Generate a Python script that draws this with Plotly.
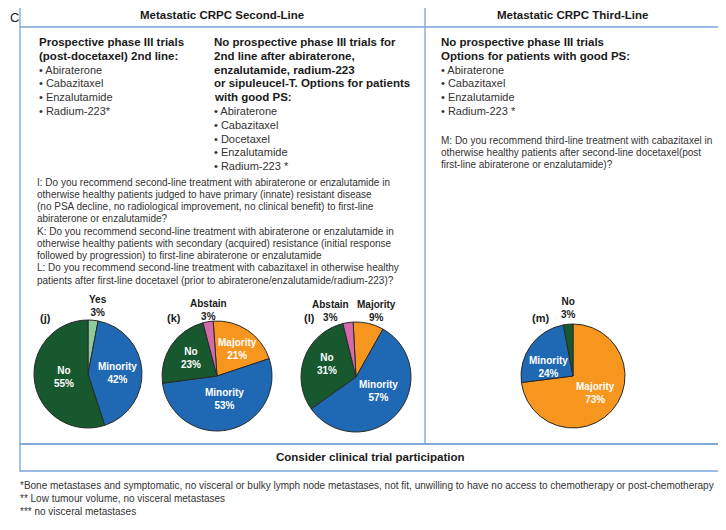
import plotly.graph_objects as go

# page body has an 8px margin, so the figure is sized to fit the 726x530 window
OFF = 8
W, H = 718, 512
FONT = "Liberation Sans, Arial, sans-serif"

# ---- data ----
header_titles = ["Metastatic CRPC Second-Line", "Metastatic CRPC Third-Line"]

col_left_heading = ["Prospective phase III trials", "(post-docetaxel) 2nd line:"]
col_left_drugs = ["Abiraterone", "Cabazitaxel", "Enzalutamide", "Radium-223*"]

col_mid_heading = [
    "No prospective phase III trials for",
    "2nd line after abiraterone,",
    "enzalutamide, radium-223",
    "or sipuleucel-T. Options for patients",
    "with good PS:",
]
col_mid_drugs = ["Abiraterone", "Cabazitaxel", "Docetaxel", "Enzalutamide", "Radium-223 *"]

col_right_heading = ["No prospective phase III trials", "Options for patients with good PS:"]
col_right_drugs = ["Abiraterone", "Cabazitaxel", "Enzalutamide", "Radium-223 *"]

questions_second = [
    "I: Do you recommend second-line treatment with abiraterone or enzalutamide in",
    "otherwise healthy patients judged to have primary (innate) resistant disease",
    "(no PSA decline, no radiological improvement, no clinical benefit) to first-line",
    "abiraterone or enzalutamide?",
    "K: Do you recommend second-line treatment with abiraterone or enzalutamide in",
    "otherwise healthy patients with secondary (acquired) resistance (initial response",
    "followed by progression) to first-line abiraterone or enzalutamide",
    "L: Do you recommend second-line treatment with cabazitaxel in otherwise healthy",
    "patients after first-line docetaxel (prior to abiraterone/enzalutamide/radium-223)?",
]
questions_third = [
    "M: Do you recommend third-line treatment with cabazitaxel in",
    "otherwise healthy patients after second-line docetaxel(post",
    "first-line abiraterone or enzalutamide)?",
]

pie_names = ["(j)", "(k)", "(l)", "(m)"]
pie_labels = [
    ["Yes", "Minority", "No"],
    ["Majority", "Minority", "No", "Abstain"],
    ["Majority", "Minority", "No", "Abstain"],
    ["Majority", "Minority", "No"],
]
pie_values = [
    [3, 42, 55],
    [21, 53, 23, 3],
    [9, 57, 31, 3],
    [73, 24, 3],
]

bottom_text = "Consider clinical trial participation"
footnotes = [
    "*Bone metastases and symptomatic, no visceral or bulky lymph node metastases, not fit, "
    "unwilling to have no access to chemotherapy or post-chemotherapy",
    "** Low tumour volume, no visceral metastases",
    "*** no visceral metastases",
]

# ---- styles / layout (screen pixels) ----
colors = {
    "Yes": "#8fcc9c",
    "Minority": "#1f69b4",
    "No": "#17582f",
    "Majority": "#f7961f",
    "Abstain": "#d46aa9",
}
box_color = "#78a4d8"
text_dark = "#1a1a1a"
text_gray = "#333333"

# pie centre (px), radius (px), rotation
pie_geom = [(88, 374, 54, 0), (217, 376, 55, -4), (356, 377, 55, -3), (573, 376, 52, 0)]
pie_name_pos = [(38, 318), (165, 318), (302, 318), (530, 318)]
# label positions (px) per slice, and whether label sits inside the slice
pie_label_pos = [
    [(98, 306, False), (117, 373, True), (64, 377, True)],
    [(237, 349, True), (224, 399, True), (191, 358, True), (208, 310, False)],
    [(376, 311, False), (378, 391, True), (327, 364, True), (330, 311, False)],
    [(595, 393, True), (548, 367, True), (568, 308, False)],
]


def fx(x):
    return (x - OFF) / W


def fy(y):
    return 1 - (y - OFF) / H


annotations = []


def add_text(x, y, text, size, bold=False, color=text_dark, xanchor="left"):
    if bold:
        text = "<b>" + text + "</b>"
    annotations.append(
        dict(
            x=fx(x), y=fy(y), xref="paper", yref="paper", text=text,
            showarrow=False, xanchor=xanchor, yanchor="middle", align="left",
            font=dict(family=FONT, size=size, color=color),
        )
    )


def add_block(x, y0, step, heading, drugs):
    y = y0
    for line in heading:
        add_text(x, y, line, 11.5, bold=True)
        y += step
    for d in drugs:
        add_text(x, y, "• " + d, 11, color=text_gray)
        y += step


fig = go.Figure()

for i, name in enumerate(pie_names):
    cx, cy, r, rot = pie_geom[i]
    fig.add_trace(
        go.Pie(
            labels=pie_labels[i],
            values=pie_values[i],
            marker=dict(colors=[colors[l] for l in pie_labels[i]], line=dict(color="#2a2a2a", width=1)),
            sort=False,
            direction="clockwise",
            rotation=rot,
            textinfo="none",
            hoverinfo="label+percent",
            showlegend=False,
            domain=dict(x=[fx(cx - r), fx(cx + r)], y=[fy(cy + r), fy(cy - r)]),
        )
    )
    add_text(pie_name_pos[i][0], pie_name_pos[i][1], name, 11, bold=True)
    for lab, val, (lx, ly, inside) in zip(pie_labels[i], pie_values[i], pie_label_pos[i]):
        annotations.append(
            dict(
                x=fx(lx), y=fy(ly), xref="paper", yref="paper",
                text=f"<b>{lab}<br>{val}%</b>", showarrow=False,
                xanchor="center", yanchor="middle",
                font=dict(family=FONT, size=10, color="white" if inside else text_dark),
            )
        )

# headers
add_text(222, 15, header_titles[0], 11.5, bold=True, xanchor="center")
add_text(572, 15, header_titles[1], 11.5, bold=True, xanchor="center")
add_text(OFF, 17, "C", 13, color=text_dark)

add_block(37, 42, 13.8, col_left_heading, col_left_drugs)
add_block(212, 42, 13.8, col_mid_heading, col_mid_drugs)
add_block(439, 42, 13.8, col_right_heading, col_right_drugs)

for k, line in enumerate(questions_second):
    add_text(35, 182 + k * 12.25, line, 10, color=text_gray)
for k, line in enumerate(questions_third):
    add_text(439, 140 + k * 12.25, line, 10, color=text_gray)

add_text(370, 457, bottom_text, 11.5, bold=True, xanchor="center")
for k, line in enumerate(footnotes):
    add_text(18, 485 + k * 13, line, 10, color=text_gray)

shapes = [
    dict(type="rect", x0=fx(20), x1=fx(719), y0=fy(3), y1=fy(444)),
    dict(type="line", x0=fx(20), x1=fx(719), y0=fy(27), y1=fy(27)),
    dict(type="line", x0=fx(425), x1=fx(425), y0=fy(3), y1=fy(444)),
    dict(type="rect", x0=fx(20), x1=fx(719), y0=fy(444), y1=fy(471)),
]
for s in shapes:
    s.update(xref="paper", yref="paper", line=dict(color=box_color, width=1.3))

fig.update_layout(
    width=W, height=H,
    margin=dict(l=0, r=0, t=0, b=0),
    paper_bgcolor="white", plot_bgcolor="white",
    annotations=annotations, shapes=shapes,
    showlegend=False,
)

fig.write_html("out.html")
